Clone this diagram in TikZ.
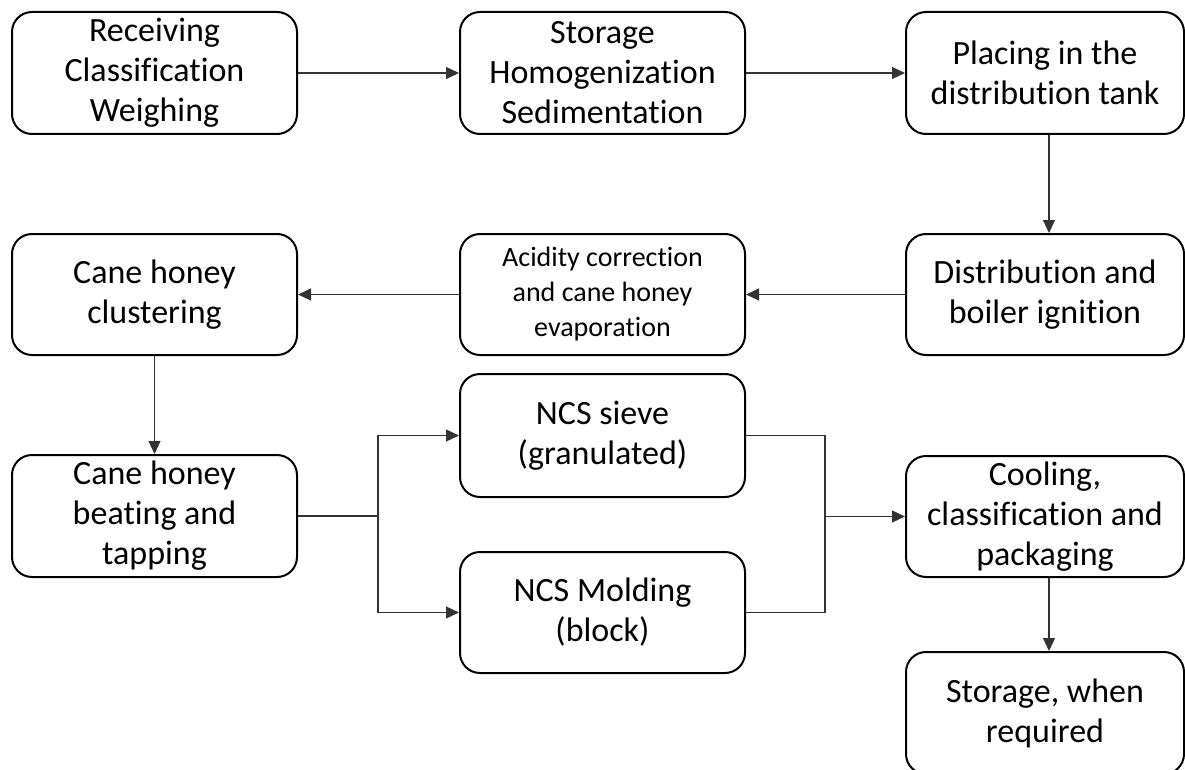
\documentclass[tikz,border=0pt]{standalone}
\usepackage{fontspec}
\setmainfont{Carlito}[Ligatures={NoCommon}, RawFeature={-liga;-dlig}]
\usetikzlibrary{arrows.meta}
\begin{document}
\begin{tikzpicture}[x=1pt,y=-1pt,
  stepbox/.style={draw, line width=2pt, rounded corners=20pt, align=center,
    inner sep=0pt, minimum width=285pt, minimum height=122pt,
    font=\fontsize{34}{40}\selectfont},
  smalltext/.style={font=\fontsize{28}{35}\selectfont},
  conn/.style={line width=1.1pt, draw=black!80},
  arr/.style={conn, -{Triangle[length=13pt,width=12pt]}}]
\useasboundingbox (0,0) rectangle (1185,770);
\clip (0,0) rectangle (1185,770);
\fill[white] (0,0) rectangle (1185,770);
% row 1
\node[stepbox] (b1) at (154.5,73) {Receiving\\Classification\\Weighing};
\node[stepbox] (b2) at (602.5,73) {Storage\\Homogenization\\Sedimentation};
\node[stepbox, minimum width=278pt] (b3) at (1045,73) {Placing in the\\distribution tank};
% row 2
\node[stepbox, minimum width=278pt, minimum height=121pt] (b4) at (1045,294.5) {Distribution and\\boiler ignition};
\node[stepbox, smalltext, minimum height=121pt] (b5) at (602.5,294.5) {Acidity correction\\and cane honey\\evaporation};
\node[stepbox, minimum height=121pt] (b6) at (154.5,294.5) {Cane honey\\clustering};
% row 3
\node[stepbox] (b7) at (154.5,516) {Cane honey\\beating and\\tapping};
\node[stepbox, minimum height=123pt] (b8) at (602.5,435.5) {NCS sieve\\(granulated)};
\node[stepbox, minimum height=121pt] (b9) at (602.5,612.5) {NCS Molding\\(block)};
\node[stepbox, minimum width=278pt, minimum height=121pt] (b10) at (1045,516.5) {Cooling,\\classification and\\packaging};
\node[stepbox, minimum width=278pt] (b11) at (1045,713) {Storage, when\\required};
% connectors
\draw[arr] (b1.east) -- (b2.west);
\draw[arr] (b2.east) -- (b3.west);
\draw[arr] ([xshift=4pt]b3.south) -- ([xshift=4pt]b4.north);
\draw[arr] (b4.west) -- (b5.east);
\draw[arr] (b5.west) -- (b6.east);
\draw[arr] (b6.south) -- (b7.north);
\coordinate (j1) at (378,516);
\draw[conn] (b7.east) -- (j1);
\draw[arr] (j1) |- (b8.west);
\draw[arr] (j1) |- (b9.west);
\coordinate (j2) at (825,516.5);
\draw[conn] (b8.east) -| (j2);
\draw[conn] (b9.east) -| (j2);
\draw[arr] (j2) -- (b10.west);
\draw[arr] ([xshift=4pt]b10.south) -- ([xshift=4pt]b11.north);
\end{tikzpicture}
\end{document}
